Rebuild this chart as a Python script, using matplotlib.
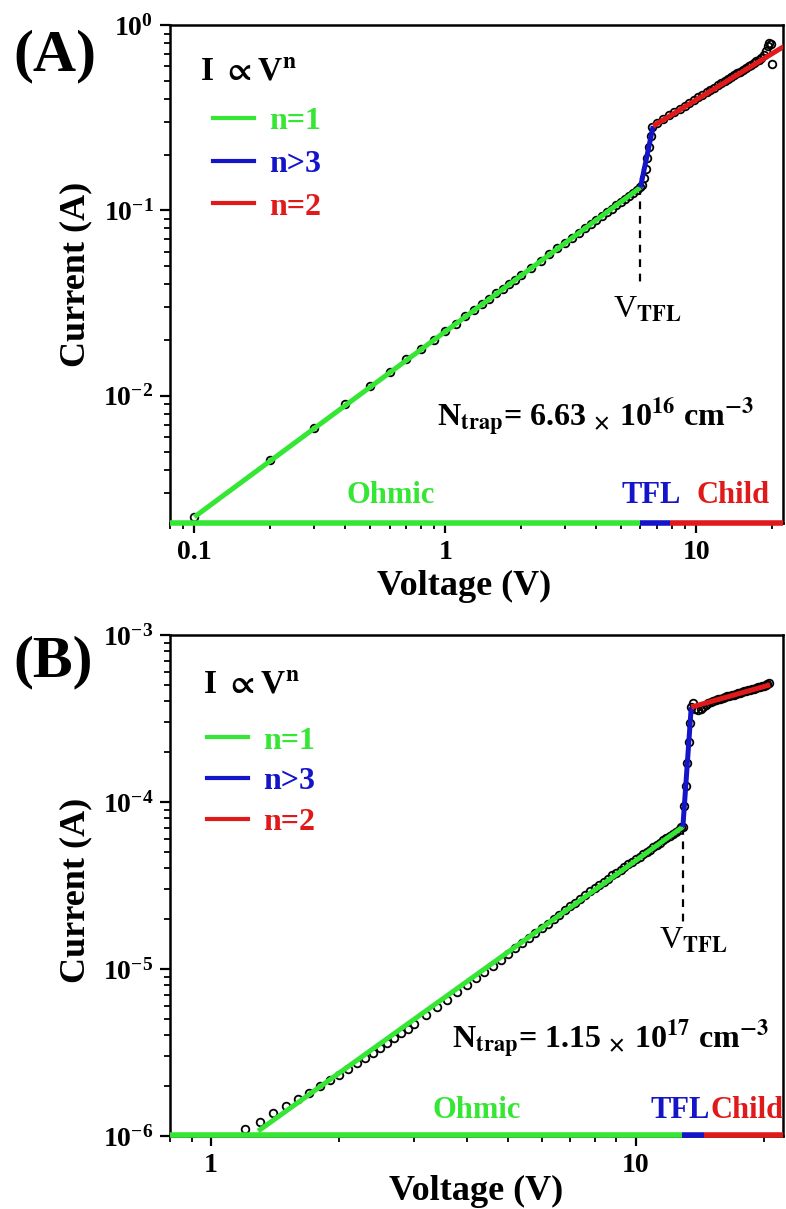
import matplotlib
matplotlib.use('Agg')
import matplotlib.pyplot as plt
from matplotlib.lines import Line2D
from matplotlib.ticker import NullFormatter, LogLocator

plt.rcParams['font.family'] = ['Liberation Serif', 'DejaVu Serif']
plt.rcParams['font.weight'] = 'bold'
plt.rcParams['mathtext.fontset'] = 'stix'

GREEN = '#35e635'
BLUE = '#1414c8'
RED = '#e01a1a'

# ---------------- Panel A data ----------------
a_v = [0.1, 0.2, 0.3, 0.4, 0.5, 0.6, 0.7, 0.8, 0.9, 1.0, 1.1, 1.2, 1.3, 1.4, 1.5, 1.6, 1.7, 1.8, 1.9, 2.0,
       2.2, 2.4, 2.6, 2.8, 3.0, 3.2, 3.4, 3.6, 3.8, 4.0, 4.2, 4.4, 4.6, 4.8, 5.0, 5.2, 5.4, 5.6, 5.8, 6.0,
       6.1, 6.2, 6.3, 6.4, 6.5, 6.6, 6.7,
       7.0, 7.4, 7.8, 8.2, 8.6, 9.0, 9.4, 9.8, 10.2, 10.6, 11.0, 11.4, 11.8, 12.2, 12.6, 13.0, 13.4, 13.8,
       14.2, 14.6, 15.0, 15.4, 15.8, 16.2, 16.6, 17.0, 17.4, 17.8, 18.2, 18.6, 19.0, 19.4, 19.6, 19.8, 20.0]
a_i = [0.00222, 0.00450, 0.00668, 0.00905, 0.01125, 0.01345, 0.0157, 0.0179, 0.0201, 0.0223, 0.0245, 0.0268,
       0.0290, 0.0312, 0.0334, 0.0357, 0.0379, 0.0401, 0.0423, 0.0446,
       0.0491, 0.0536, 0.0581, 0.0625, 0.0670, 0.0714, 0.0759, 0.0803, 0.0848, 0.0892, 0.0936, 0.0980,
       0.1024, 0.1068, 0.1112, 0.1156, 0.1200, 0.1244, 0.1288, 0.1330,
       0.137, 0.150, 0.168, 0.192, 0.220, 0.252, 0.282,
       0.298, 0.312, 0.326, 0.340, 0.354, 0.368, 0.381, 0.395, 0.408, 0.421, 0.434, 0.447, 0.460, 0.473,
       0.486, 0.498, 0.511, 0.523, 0.535, 0.548, 0.560, 0.572, 0.585, 0.598, 0.610, 0.622, 0.636, 0.650,
       0.668, 0.690, 0.720, 0.770, 0.800, 0.790, 0.620]
a_fit_ohm_v, a_fit_ohm_i = [0.1, 6.0], [0.00222, 0.133]
a_fit_tfl_v, a_fit_tfl_i = [6.0, 6.74], [0.133, 0.285]
a_fit_child_v, a_fit_child_i = [6.74, 23.0], [0.285, 0.784]
a_vtfl = 6.0
a_vtfl_i = [0.133, 0.040]
a_region_edges = [0.08, 6.0, 7.9, 22.2]
a_xlim, a_ylim = (0.08, 22.2), (2.06e-3, 1.0)
a_xticks, a_xticklabels = [0.1, 1, 10], ['0.1', '1', '10']
a_ntrap = r'N$_{\mathbf{trap}}$= 6.63 $_{\times}$ 10$^{\mathbf{16}}$ cm$^{\mathbf{-3}}$'

# ---------------- Panel B data ----------------
b_v = [1.2, 1.3, 1.4, 1.5, 1.6, 1.7, 1.8, 1.9, 2.0, 2.1, 2.2, 2.3, 2.4, 2.5, 2.6, 2.7, 2.8, 2.9, 3.0,
       3.2, 3.4, 3.6, 3.8, 4.0, 4.2, 4.4, 4.6, 4.8, 5.0, 5.2, 5.4, 5.6, 5.8, 6.0, 6.2, 6.4, 6.6, 6.8,
       7.0, 7.2, 7.4, 7.6, 7.8, 8.0, 8.2, 8.4, 8.6, 8.8, 9.0, 9.2, 9.4, 9.6, 9.8, 10.0, 10.2, 10.4,
       10.6, 10.8, 11.0, 11.2, 11.4, 11.6, 11.8, 12.0, 12.2, 12.4, 12.6, 12.8,
       12.9, 13.0, 13.1, 13.2, 13.3, 13.4, 13.5,
       13.6, 13.8, 14.0, 14.2, 14.4, 14.6, 14.8, 15.0, 15.2, 15.4, 15.6, 15.8, 16.0, 16.2, 16.4, 16.6,
       16.8, 17.0, 17.2, 17.4, 17.6, 17.8, 18.0, 18.2, 18.4, 18.6, 18.8, 19.0, 19.2, 19.4, 19.6, 19.8,
       20.0, 20.2, 20.4, 20.6]
b_i = [1.10e-6, 1.22e-6, 1.37e-6, 1.52e-6, 1.67e-6, 1.82e-6, 1.98e-6, 2.15e-6, 2.33e-6, 2.52e-6,
       2.72e-6, 2.93e-6, 3.15e-6, 3.38e-6, 3.62e-6, 3.87e-6, 4.13e-6, 4.40e-6, 4.68e-6,
       5.27e-6, 5.90e-6, 6.56e-6, 7.26e-6, 8.00e-6, 8.78e-6, 9.60e-6, 1.045e-5, 1.135e-5, 1.23e-5,
       1.33e-5, 1.43e-5, 1.535e-5, 1.64e-5, 1.75e-5, 1.87e-5, 1.99e-5, 2.11e-5, 2.24e-5,
       2.37e-5, 2.50e-5, 2.64e-5, 2.78e-5, 2.92e-5, 3.06e-5, 3.20e-5, 3.34e-5, 3.48e-5, 3.63e-5,
       3.78e-5, 3.93e-5, 4.08e-5, 4.23e-5, 4.38e-5, 4.54e-5, 4.70e-5, 4.86e-5, 5.02e-5, 5.18e-5,
       5.35e-5, 5.52e-5, 5.70e-5, 5.88e-5, 6.06e-5, 6.25e-5, 6.44e-5, 6.63e-5, 6.82e-5, 7.05e-5,
       7.1e-5, 9.5e-5, 1.25e-4, 1.72e-4, 2.30e-4, 2.97e-4, 3.70e-4,
       3.90e-4, 3.62e-4, 3.55e-4, 3.60e-4, 3.70e-4, 3.82e-4, 3.92e-4, 3.98e-4, 4.03e-4, 4.08e-4,
       4.12e-4, 4.16e-4, 4.21e-4, 4.25e-4, 4.29e-4, 4.33e-4, 4.37e-4, 4.40e-4, 4.44e-4, 4.48e-4,
       4.52e-4, 4.55e-4, 4.59e-4, 4.63e-4, 4.66e-4, 4.70e-4, 4.74e-4, 4.78e-4, 4.81e-4, 4.85e-4,
       4.89e-4, 4.93e-4, 4.98e-4, 5.05e-4, 5.12e-4, 5.18e-4]
b_fit_ohm_v, b_fit_ohm_i = [1.29, 12.9], [1.07e-6, 7.1e-5]
b_fit_tfl_v, b_fit_tfl_i = [12.9, 13.5], [7.1e-5, 3.7e-4]
b_fit_child_v, b_fit_child_i = [13.5, 20.7], [3.7e-4, 5.03e-4]
b_vtfl = 12.9
b_vtfl_i = [7.1e-5, 1.76e-5]
b_region_edges = [0.8, 12.83, 14.5, 22.2]
b_xlim, b_ylim = (0.8, 22.2), (1e-6, 1e-3)
b_xticks, b_xticklabels = [1, 10], ['1', '10']
b_ntrap = r'N$_{\mathbf{trap}}$= 1.15 $_{\times}$ 10$^{\mathbf{17}}$ cm$^{\mathbf{-3}}$'

legend_labels = ['n=1', 'n>3', 'n=2']
region_labels = ['Ohmic', 'TFL', 'Child']
colors = [GREEN, BLUE, RED]

fig = plt.figure(figsize=(7.86, 12.09), dpi=100)
ax_a = fig.add_axes([0.2163, 0.5674, 0.7799, 0.4119])
ax_b = fig.add_axes([0.2163, 0.0604, 0.7799, 0.4144])


def draw_panel(ax, v, i, fits, vtfl, vtfl_i, edges, xlim, ylim, xticks, xticklabels, ntrap, cfg):
    ax.set_xscale('log')
    ax.set_yscale('log')
    ax.plot(v, i, linestyle='none', marker='o', ms=5.5, mfc='none', mec='black', mew=1.3, zorder=2)
    handles = []
    for (fv, fi), c in zip(fits, colors):
        ax.plot(fv, fi, color=c, lw=3.6, solid_capstyle='butt', zorder=3)
        handles.append(Line2D([], [], color=c, lw=3.0))
    ax.plot([vtfl, vtfl], vtfl_i, color='black', lw=1.6, ls=(0, (3.5, 3)), zorder=2)
    for k, c in enumerate(colors):
        ax.plot(edges[k:k + 2], [ylim[0] * cfg['bar_off']] * 2, color=c, lw=4.0,
                solid_capstyle='butt', clip_on=False, zorder=5)
    ax.set_xlim(*xlim)
    ax.set_ylim(*ylim)
    ax.set_xticks(xticks)
    ax.set_xticklabels(xticklabels)
    ax.xaxis.set_minor_locator(LogLocator(base=10, subs=range(2, 10), numticks=20))
    ax.xaxis.set_minor_formatter(NullFormatter())
    ax.yaxis.set_minor_locator(LogLocator(base=10, subs=range(2, 10), numticks=20))
    ax.yaxis.set_minor_formatter(NullFormatter())
    ax.tick_params(which='major', direction='out', length=7, width=1.6, labelsize=20, pad=5,
                   top=False, right=False)
    ax.tick_params(which='minor', direction='out', length=4, width=1.3, top=False, right=False)
    for s in ax.spines.values():
        s.set_linewidth(1.8)
    ax.set_xlabel('Voltage (V)', fontsize=26, fontweight='bold')
    ax.set_ylabel('Current (A)', fontsize=26, fontweight='bold')
    ax.xaxis.set_label_coords(cfg['xlab'][0], cfg['xlab'][1])
    ax.yaxis.set_label_coords(cfg['ylab'][0], cfg['ylab'][1])

    tr = ax.transAxes
    ax.text(cfg['law'][0], cfg['law'][1], r'I $\propto$V$^{\mathbf{n}}$', transform=tr,
            fontsize=24, fontweight='bold', va='baseline', ha='left')
    leg = ax.legend(handles, legend_labels, loc='upper left', bbox_to_anchor=cfg['leg'],
                    frameon=False, handlelength=1.3, handletextpad=0.45,
                    labelspacing=cfg['lsp'], borderpad=0, borderaxespad=0,
                    prop={'weight': 'bold', 'size': 23})
    for t, c in zip(leg.get_texts(), colors):
        t.set_color(c)
    ax.text(cfg['ntrap'][0], cfg['ntrap'][1], ntrap, transform=tr, fontsize=23,
            fontweight='bold', va='baseline', ha='left')
    ax.text(cfg['vtfl'][0], cfg['vtfl'][1], r'V$_{\mathrm{TFL}}$', transform=tr, fontsize=23,
            fontweight='normal', va='baseline', ha='center')
    for (px, py, ha), lab, c in zip(cfg['regions'], region_labels, colors):
        ax.text(px, py, lab, transform=tr, fontsize=22, fontweight='bold', color=c,
                va='baseline', ha=ha)


cfg_a = dict(bar_off=1.0, xlab=(0.479, -0.094), ylab=(-0.127, 0.5), law=(0.049, 0.8896),
             leg=(0.070, 0.836), lsp=0.42, ntrap=(0.4356, 0.193), vtfl=(0.778, 0.412),
             regions=[(0.360, 0.040, 'center'), (0.785, 0.040, 'center'), (0.918, 0.040, 'center')])
cfg_b = dict(bar_off=1.02, xlab=(0.50, -0.078), ylab=(-0.127, 0.49), law=(0.054, 0.884),
             leg=(0.060, 0.818), lsp=0.36, ntrap=(0.460, 0.176), vtfl=(0.853, 0.375),
             regions=[(0.500, 0.036, 'center'), (0.832, 0.036, 'center'), (0.881, 0.036, 'left')])

draw_panel(ax_a, a_v, a_i, [(a_fit_ohm_v, a_fit_ohm_i), (a_fit_tfl_v, a_fit_tfl_i),
                            (a_fit_child_v, a_fit_child_i)],
           a_vtfl, a_vtfl_i, a_region_edges, a_xlim, a_ylim, a_xticks, a_xticklabels, a_ntrap, cfg_a)
draw_panel(ax_b, b_v, b_i, [(b_fit_ohm_v, b_fit_ohm_i), (b_fit_tfl_v, b_fit_tfl_i),
                            (b_fit_child_v, b_fit_child_i)],
           b_vtfl, b_vtfl_i, b_region_edges, b_xlim, b_ylim, b_xticks, b_xticklabels, b_ntrap, cfg_b)

fig.text(0.0165, 0.953, '(A)', fontsize=43, fontweight='bold', ha='left', va='center')
fig.text(0.0165, 0.4525, '(B)', fontsize=43, fontweight='bold', ha='left', va='center')

fig.savefig('out.png', dpi=100)
